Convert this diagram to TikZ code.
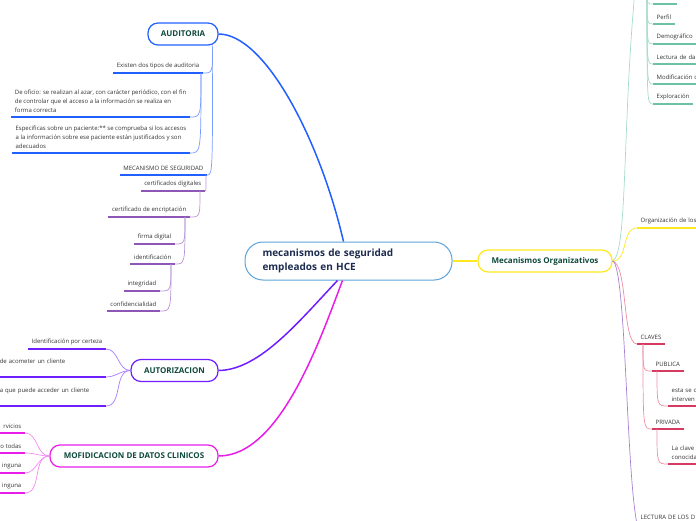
\documentclass[tikz,border=0pt]{standalone}
\usepackage{fontspec}
\setmainfont{Open Sans}

\begin{document}
\begin{tikzpicture}[x=1pt, y=-1pt,
    topic/.style={draw=#1, rounded corners=10pt, line width=1.2pt, fill=white,
        minimum height=22pt, inner xsep=6pt, text=titleColour,
        font=\fontsize{8}{10}\selectfont\bfseries},
    leaf/.style={inner xsep=3.5pt, inner ysep=4pt, align=left, text=leafColour,
        font=\fontsize{6}{9}\selectfont,
        append after command={(\tikzlastnode.south west) edge[draw=#1, line width=1.9pt] (\tikzlastnode.south east)}},
    trunk/.style={line width=1.5pt},
    twig/.style={line width=0.7pt}]

    \definecolor{titleColour}{HTML}{0E4A3B}
    \definecolor{centreText}{HTML}{1C2B4F}
    \definecolor{leafColour}{HTML}{333333}
    \definecolor{centreBorder}{HTML}{5BA3DC}
    \definecolor{auditColour}{HTML}{2160FF}
    \definecolor{auditLine}{HTML}{7A9BFF}
    \definecolor{certColour}{HTML}{8F57B5}
    \definecolor{certLine}{HTML}{B793D6}
    \definecolor{authColour}{HTML}{6F1FFF}
    \definecolor{authLine}{HTML}{A77BFF}
    \definecolor{modColour}{HTML}{E81EE8}
    \definecolor{modLine}{HTML}{F38AF3}
    \definecolor{orgColour}{HTML}{FFE81F}
    \definecolor{tealColour}{HTML}{6CC2A3}
    \definecolor{tealLine}{HTML}{A6DCC8}
    \definecolor{keyColour}{HTML}{D63A60}
    \definecolor{keyLine}{HTML}{EB8DA3}
    \definecolor{readColour}{HTML}{A77FD0}

    % Frame
    \useasboundingbox (0,0) rectangle (696,520);
    \clip (0,0) rectangle (696,520);

    % Central topic and main branches
    \node[draw=centreBorder, line width=1pt, rounded corners=18pt, fill=white,
          minimum width=207pt, minimum height=38pt, text width=172pt, align=left,
          text=centreText, font=\fontsize{10}{14}\selectfont\bfseries] (hce) at (348.5,261)
          {mecanismos de seguridad\\empleados en HCE};

    \node[topic=auditColour, minimum width=70pt] (auditoria) at (183,34) {AUDITORIA};
    \node[topic=authColour, minimum width=87pt] (autorizacion) at (174.5,370.5) {AUTORIZACION};
    \node[topic=modColour, minimum width=168pt] (modificacion) at (134,456) {MOFIDICACION DE DATOS CLINICOS};
    \node[topic=orgColour, minimum width=134pt] (mecOrg) at (545,261) {Mecanismos Organizativos};

    \draw[trunk, draw=auditColour] ([xshift=-5pt]hce.north) .. controls (320,140) and (265,34) .. (auditoria.east);
    \draw[trunk, draw=authColour] ([xshift=-11pt]hce.south) .. controls (300,320) and (260,370) .. (autorizacion.east);
    \draw[trunk, draw=modColour] ([xshift=-6pt]hce.south) .. controls (320,340) and (280,456) .. (modificacion.east);
    \draw[trunk, draw=orgColour] (hce.east) -- (mecOrg.west);

    % AUDITORIA
    \node[leaf=auditColour, anchor=south east] (existen) at (203,73) {Existen dos tipos de auditoria};
    \node[leaf=auditColour, anchor=south east] (deOficio) at (190,117)
        {De oficio: se realizan al azar, con carácter periódico, con el fin\\de controlar que el acceso a la información se realiza en\\forma correcta};
    \node[leaf=auditColour, anchor=south east] (especificas) at (190,153)
        {Especificas sobre un paciente:** se comprueba si los accesos\\a la información sobre ese paciente están justificados y son\\adecuados};
    \node[leaf=auditColour, anchor=south east] (mecanismo) at (207,175) {MECANISMO DE SEGURIDAD};
    \node[leaf=certColour, anchor=south east] (certDigital) at (205,191) {certificados digitales};
    \node[leaf=certColour, anchor=south east] (encriptacion) at (190,217) {certificado de encriptación};
    \node[leaf=certColour, anchor=south east] (firma) at (175,244) {firma digital};
    \node[leaf=certColour, anchor=south east] (identificacion) at (175,264) {identificación};
    \node[leaf=certColour, anchor=south east] (integridad) at (160,291) {integridad};
    \node[leaf=certColour, anchor=south east] (confidencialidad) at (160,311) {confidencialidad};

    \coordinate (auditHub) at ([xshift=-6pt]auditoria.south east);
    \coordinate (existenHub) at ([xshift=-2pt]existen.south east);
    \coordinate (mecHub) at ([xshift=-1pt]mecanismo.south east);
    \coordinate (certHub) at ([xshift=-5pt]certDigital.south east);
    \coordinate (encHub) at ([xshift=-5pt]encriptacion.south east);
    \coordinate (identHub) at ([xshift=-4pt]identificacion.south east);

    \foreach \n in {existen,mecanismo}
        \draw[twig, draw=auditLine] (auditHub) .. controls (auditHub |- \n.south east) .. (\n.south east);
    \foreach \n in {deOficio,especificas}
        \draw[twig, draw=auditLine] (existenHub) .. controls (existenHub |- \n.south east) .. (\n.south east);
    \draw[twig, draw=certLine] (mecHub) .. controls (mecHub |- certDigital.south east) .. (certDigital.south east);
    \draw[twig, draw=certLine] (certHub) .. controls (certHub |- encriptacion.south east) .. (encriptacion.south east);
    \foreach \n in {firma,identificacion}
        \draw[twig, draw=certLine] (encHub) .. controls (encHub |- \n.south east) .. (\n.south east);
    \foreach \n in {integridad,confidencialidad}
        \draw[twig, draw=certLine] (identHub) .. controls (identHub |- \n.south east) .. (\n.south east);

    % AUTORIZACION
    \node[leaf=authColour, anchor=south east] (certeza) at (106,349) {Identificación por certeza};
    \node[leaf=authColour, anchor=south east, text width=102.5pt] (acometer) at (106,377) {de acometer un cliente\\ \mbox{}};
    \node[leaf=authColour, anchor=south east, text width=102.5pt] (acceder) at (106,406) {a que puede acceder un cliente\\ \mbox{}};

    \foreach \n in {certeza,acometer,acceder}
        \draw[twig, draw=authLine] (autorizacion.west) to[out=180, in=0] (\n.south east);

    % MOFIDICACION DE DATOS CLINICOS
    \node[leaf=modColour, anchor=south east] (servicios) at (25,433) {rvicios};
    \node[leaf=modColour, anchor=south east] (todas) at (25,453) {o todas};
    \node[leaf=modColour, anchor=south east] (ningunaA) at (25,473) {inguna};
    \node[leaf=modColour, anchor=south east] (ningunaB) at (25,493) {inguna};

    \foreach \n in {servicios,todas,ningunaA,ningunaB}
        \draw[twig, draw=modLine] (modificacion.west) to[out=180, in=0] (\n.south east);

    % Mecanismos Organizativos
    \coordinate (tealTop) at (636,-20);
    \coordinate (tealHub) at (647,-8);
    \draw[twig, draw=tealLine] (mecOrg.east) .. controls (628,255) and (622,120) .. (tealTop);

    \node[leaf=tealColour, anchor=south west, minimum width=24pt, minimum height=8pt] (tealFirst) at (653,4) {};
    \node[leaf=tealColour, anchor=south west] (perfil) at (653,24) {Perfil};
    \node[leaf=tealColour, anchor=south west, text width=60pt] (demografico) at (653,44) {Demográfico};
    \node[leaf=tealColour, anchor=south west, text width=60pt] (lectura) at (653,64) {Lectura de da};
    \node[leaf=tealColour, anchor=south west, text width=60pt] (modif) at (653,84) {Modificación d};
    \node[leaf=tealColour, anchor=south west] (exploracion) at (653,104) {Exploración};

    \foreach \n in {tealFirst,perfil,demografico,lectura,modif,exploracion}
        \draw[twig, draw=tealLine] (tealHub) .. controls (tealHub |- \n.south west) .. (\n.south west);

    \node[leaf=orgColour, anchor=south west, text width=70pt] (organizacion) at (637,228) {Organización de los};
    \draw[twig, draw=orgColour] (mecOrg.east) to[out=0, in=180] (organizacion.south west);

    \node[leaf=keyColour, anchor=south west] (claves) at (637,344) {CLAVES};
    \node[leaf=keyColour, anchor=south west] (publica) at (652,371) {PUBLICA};
    \node[leaf=keyColour, anchor=south west] (privada) at (652,429) {PRIVADA};
    \node[leaf=keyColour, anchor=south west, text width=40pt] (publicaTxt) at (668,406) {esta se c\\interven};
    \node[leaf=keyColour, anchor=south west, text width=40pt] (privadaTxt) at (668,464) {La clave\\conocida};

    \coordinate (clavesHub) at ([xshift=6pt]claves.south west);
    \coordinate (publicaHub) at ([xshift=5pt]publica.south west);
    \coordinate (privadaHub) at ([xshift=5pt]privada.south west);

    \draw[twig, draw=keyLine] (mecOrg.east) .. controls (628,265) and (622,344) .. (claves.south west);
    \foreach \n in {publica,privada}
        \draw[twig, draw=keyLine] (clavesHub) .. controls (clavesHub |- \n.south west) .. (\n.south west);
    \draw[twig, draw=keyLine] (publicaHub) .. controls (publicaHub |- publicaTxt.south west) .. (publicaTxt.south west);
    \draw[twig, draw=keyLine] (privadaHub) .. controls (privadaHub |- privadaTxt.south west) .. (privadaTxt.south west);

    \node[leaf=readColour, anchor=south west, text width=70pt] (lecturaDatos) at (637,524) {LECTURA DE LOS D};
    \draw[twig, draw=readColour] (mecOrg.east) .. controls (626,265) and (626,470) .. (lecturaDatos.south west);

\end{tikzpicture}
\end{document}
